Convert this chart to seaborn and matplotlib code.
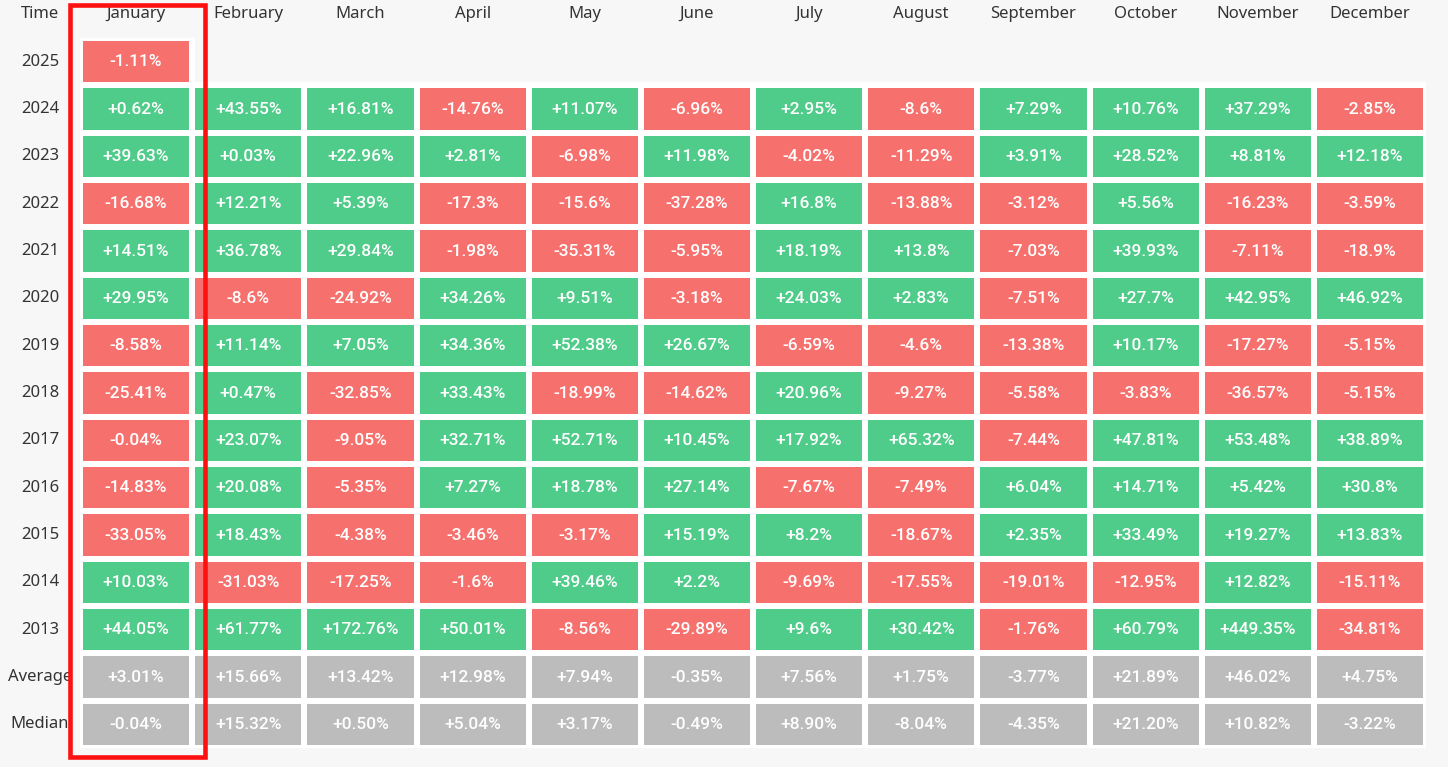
import numpy as np
import matplotlib
matplotlib.use("Agg")
import matplotlib.pyplot as plt
from matplotlib.colors import ListedColormap
from matplotlib.patches import Rectangle
from matplotlib.transforms import blended_transform_factory
import seaborn as sns

MONTHS = ["January", "February", "March", "April", "May", "June", "July",
          "August", "September", "October", "November", "December"]
ROWS = ["2025", "2024", "2023", "2022", "2021", "2020", "2019", "2018",
        "2017", "2016", "2015", "2014", "2013", "Average", "Median"]

y2025 = [-1.11]
y2024 = [0.62, 43.55, 16.81, -14.76, 11.07, -6.96, 2.95, -8.6, 7.29, 10.76, 37.29, -2.85]
y2023 = [39.63, 0.03, 22.96, 2.81, -6.98, 11.98, -4.02, -11.29, 3.91, 28.52, 8.81, 12.18]
y2022 = [-16.68, 12.21, 5.39, -17.3, -15.6, -37.28, 16.8, -13.88, -3.12, 5.56, -16.23, -3.59]
y2021 = [14.51, 36.78, 29.84, -1.98, -35.31, -5.95, 18.19, 13.8, -7.03, 39.93, -7.11, -18.9]
y2020 = [29.95, -8.6, -24.92, 34.26, 9.51, -3.18, 24.03, 2.83, -7.51, 27.7, 42.95, 46.92]
y2019 = [-8.58, 11.14, 7.05, 34.36, 52.38, 26.67, -6.59, -4.6, -13.38, 10.17, -17.27, -5.15]
y2018 = [-25.41, 0.47, -32.85, 33.43, -18.99, -14.62, 20.96, -9.27, -5.58, -3.83, -36.57, -5.15]
y2017 = [-0.04, 23.07, -9.05, 32.71, 52.71, 10.45, 17.92, 65.32, -7.44, 47.81, 53.48, 38.89]
y2016 = [-14.83, 20.08, -5.35, 7.27, 18.78, 27.14, -7.67, -7.49, 6.04, 14.71, 5.42, 30.8]
y2015 = [-33.05, 18.43, -4.38, -3.46, -3.17, 15.19, 8.2, -18.67, 2.35, 33.49, 19.27, 13.83]
y2014 = [10.03, -31.03, -17.25, -1.6, 39.46, 2.2, -9.69, -17.55, -19.01, -12.95, 12.82, -15.11]
y2013 = [44.05, 61.77, 172.76, 50.01, -8.56, -29.89, 9.6, 30.42, -1.76, 60.79, 449.35, -34.81]
average = [3.01, 15.66, 13.42, 12.98, 7.94, -0.35, 7.56, 1.75, -3.77, 21.89, 46.02, 4.75]
median = [-0.04, 15.32, 0.50, 5.04, 3.17, -0.49, 8.90, -8.04, -4.35, 21.20, 10.82, -3.22]

RED = "#f6716e"
GREEN = "#4fcb8a"
GRAY = "#bcbcbc"
BG = "#f7f7f7"

W, H = 1448, 767


def build():
    years = [y2025, y2024, y2023, y2022, y2021, y2020, y2019, y2018,
             y2017, y2016, y2015, y2014, y2013]
    vals = np.full((len(ROWS), 12), np.nan)
    codes = np.full((len(ROWS), 12), np.nan)
    labels = np.full((len(ROWS), 12), "", dtype=object)
    for i, row in enumerate(years):
        for j, v in enumerate(row):
            vals[i, j] = v
            codes[i, j] = 0 if v < 0 else 1
            labels[i, j] = f"{v:+g}%"
    for i, row in [(13, average), (14, median)]:
        for j, v in enumerate(row):
            vals[i, j] = v
            codes[i, j] = 2
            labels[i, j] = f"{v:+.2f}%"
    return vals, codes, labels


def main():
    vals, codes, labels = build()
    mask = np.isnan(vals)

    fig = plt.figure(figsize=(W / 100, H / 100), dpi=100, facecolor=BG)
    ax = fig.add_axes([80 / W, (H - 748) / H, 1346 / W, 710 / H])
    ax.set_facecolor(BG)

    sns.heatmap(codes, mask=mask, cmap=ListedColormap([RED, GREEN, GRAY]),
                vmin=-0.5, vmax=2.5, cbar=False, annot=labels, fmt="",
                linewidths=3, linecolor="white", ax=ax,
                annot_kws={"color": "white", "fontsize": 12.5,
                           "family": "Roboto", "weight": "medium"})

    # no grid lines around the empty cells
    mesh = ax.collections[0]
    edges = [(0, 0, 0, 0) if m else (1, 1, 1, 1) for m in mask.ravel()]
    mesh.set_edgecolors(edges)

    ax.set_xticks([])
    ax.set_yticks([])
    for s in ax.spines.values():
        s.set_visible(False)

    # headers and row labels
    tr_x = blended_transform_factory(ax.transData, fig.transFigure)
    for j, m in enumerate(MONTHS):
        ax.text(j + 0.5, 1 - 14 / H, m, transform=tr_x, ha="center", va="center",
                fontsize=12, color="#333333", family="Noto Sans")
    tr_y = blended_transform_factory(fig.transFigure, ax.transData)
    fig.text(40 / W, 1 - 14 / H, "Time", ha="center", va="center",
             fontsize=12, color="#333333", family="Noto Sans")
    for i, r in enumerate(ROWS):
        ax.text(40 / W, i + 0.5, r, transform=tr_y, ha="center", va="center",
                fontsize=12, color="#333333", family="Noto Sans", clip_on=False)

    # highlight box around January
    box = Rectangle((69.5 / W, 1 - 756.5 / H), 135 / W, 752 / H,
                    transform=fig.transFigure, fill=False,
                    edgecolor="#ff1010", linewidth=3.3, zorder=10)
    fig.add_artist(box)

    fig.savefig("out.png", dpi=100, facecolor=BG)


if __name__ == '__main__':
    main()
